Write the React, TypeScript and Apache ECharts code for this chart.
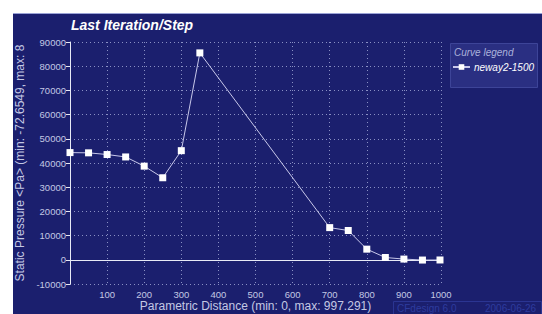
import React, { useEffect, useRef } from "react";
import * as echarts from "echarts";

const xValues = [0, 50, 100, 150, 200, 250, 300, 350, 700, 750, 800, 850, 900, 950, 997.291];
const pressureValues = [44300, 44200, 43500, 42500, 38700, 33900, 45100, 85500, 13300, 12100, 4400, 950, 300, -100, -72.6549];
const seriesName = "neway2-1500";
const titleText = "Last Iteration/Step";
const yAxisName = "Static Pressure <Pa> (min: -72.6549, max: 8";
const xAxisName = "Parametric Distance (min: 0, max: 997.291)";
const legendTitle = "Curve legend";
const footerLeft = "CFdesign 6.0";
const footerRight = "2006-06-26";

const FONT = "'Liberation Sans', Arial, sans-serif";
const BG = "#1b1f6e";
const TXT = "#c4c8e4";

export default function App() {
  const ref = useRef<HTMLDivElement>(null);
  useEffect(() => {
    if (!ref.current) return;
    const chart = echarts.init(ref.current, undefined, { renderer: "svg" });
    chart.setOption({
      animation: false,
      backgroundColor: "#ffffff",
      graphic: [
        { type: "rect", z: -10, shape: { x: 13, y: 13, width: 529, height: 301 }, style: { fill: BG } },
        { type: "line", z: -9, shape: { x1: 13, y1: 13.5, x2: 542, y2: 13.5 }, style: { stroke: "#9aa2d6", lineWidth: 1 } },
        { type: "rect", z: 1, shape: { x: 450.5, y: 43.5, width: 87, height: 44 }, style: { fill: "#2a2f82", stroke: "#3d4498", lineWidth: 1 } },
        { type: "text", z: 5, x: 454, y: 47, style: { text: legendTitle, fill: "#aab2dc", font: `italic 10px ${FONT}` } },
        { type: "rect", z: 1, shape: { x: 393.5, y: 301.5, width: 148, height: 14 }, style: { fill: "none", stroke: "#2b3592", lineWidth: 1 } },
        { type: "text", z: 5, x: 397, y: 303, style: { text: footerLeft, fill: "#2e3c9e", font: `10px ${FONT}` } },
        { type: "text", z: 5, x: 485, y: 303, style: { text: footerRight, fill: "#2e3c9e", font: `10px ${FONT}` } },
      ],
      title: {
        text: titleText,
        left: 71,
        top: 18,
        padding: 0,
        textStyle: { color: "#ffffff", fontFamily: FONT, fontSize: 14, fontWeight: "bold", fontStyle: "italic" },
      },
      legend: {
        left: 452,
        top: 62,
        padding: 0,
        itemWidth: 17,
        itemHeight: 7,
        itemGap: 4,
        z: 6,
        textStyle: { color: "#ffffff", fontFamily: FONT, fontSize: 10, fontStyle: "italic", padding: [0, 0, 0, -1] },
        data: [seriesName],
      },
      grid: { left: 70, top: 42, right: 101, bottom: 30, outerBoundsMode: "none", containLabel: false },
      xAxis: {
        type: "value",
        min: 0,
        max: 1000,
        interval: 100,
        name: xAxisName,
        nameLocation: "middle",
        nameGap: 16,
        nameMoveOverlap: false,
        nameTextStyle: { color: TXT, fontFamily: FONT, fontSize: 12, lineHeight: 12 },
        axisLine: { onZero: true, lineStyle: { color: "#e8eaf6", width: 1 } },
        axisTick: { show: false },
        axisLabel: {
          color: TXT,
          fontFamily: FONT,
          fontSize: 9.5,
          margin: 5,
          formatter: (v: number) => (v === 0 ? "" : String(v)),
        },
        splitLine: { show: true, lineStyle: { color: "#8a90c4", type: [1, 3], width: 1 } },
      },
      yAxis: {
        type: "value",
        min: -10000,
        max: 90000,
        interval: 10000,
        name: yAxisName,
        nameLocation: "middle",
        nameRotate: 90,
        nameGap: 41,
        nameTextStyle: { color: TXT, fontFamily: FONT, fontSize: 12 },
        axisLine: { show: true, lineStyle: { color: "#e8eaf6", width: 1 } },
        axisTick: { show: true, length: 4, lineStyle: { color: "#e8eaf6" } },
        axisLabel: { color: TXT, fontFamily: FONT, fontSize: 9.5, margin: 4, formatter: (v: number) => String(v) },
        splitLine: { show: true, lineStyle: { color: "#8a90c4", type: [1, 3], width: 1 } },
      },
      series: [
        {
          name: seriesName,
          type: "line",
          data: xValues.map((x, i) => [x, pressureValues[i]]),
          symbol: "rect",
          symbolSize: 7,
          showAllSymbol: true,
          lineStyle: { color: "#c8c8ea", width: 1 },
          itemStyle: { color: "#ffffff" },
          z: 3,
        },
      ],
    });
    return () => chart.dispose();
  }, []);
  return <div ref={ref} style={{ position: "fixed", left: 0, top: 0, width: 542, height: 314 }} />;
}
